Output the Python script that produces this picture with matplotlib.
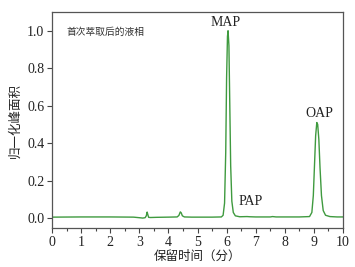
import matplotlib
matplotlib.use("Agg")
import matplotlib.pyplot as plt

# 色谱曲线（读图估计的点）
time_min = [0.0, 1.0, 2.0, 2.8, 3.0, 3.12, 3.2, 3.24, 3.27, 3.29, 3.32, 3.38, 3.6,
            4.0, 4.3, 4.36, 4.41, 4.44, 4.48, 4.55, 4.8, 5.0, 5.5, 5.82, 5.88,
            5.93, 5.97, 6.0, 6.03, 6.05, 6.08, 6.11, 6.14, 6.18, 6.23, 6.3, 6.45,
            6.7, 6.8, 7.0, 7.5, 7.58, 7.7, 8.0, 8.5, 8.85, 8.93, 8.98, 9.02,
            9.06, 9.1, 9.13, 9.17, 9.21, 9.26, 9.32, 9.4, 9.55, 9.8, 10.0]
signal = [0.005, 0.006, 0.006, 0.005, 0.002, 0.0, 0.002, 0.012, 0.032, 0.02, 0.004,
          0.003, 0.004, 0.005, 0.006, 0.014, 0.033, 0.028, 0.012, 0.006, 0.005,
          0.005, 0.005, 0.006, 0.015, 0.08, 0.35, 0.75, 0.97, 1.0, 0.92, 0.6,
          0.28, 0.09, 0.03, 0.012, 0.007, 0.008, 0.007, 0.006, 0.006, 0.008,
          0.006, 0.006, 0.006, 0.008, 0.03, 0.12, 0.28, 0.44, 0.51, 0.5, 0.42,
          0.27, 0.12, 0.04, 0.015, 0.008, 0.006, 0.006]

peak_names = ["MAP", "PAP", "OAP"]
peak_x = [5.97, 6.84, 9.19]
peak_y = [1.01, 0.055, 0.525]

x_ticks = list(range(0, 11))
y_ticks = [0.0, 0.2, 0.4, 0.6, 0.8, 1.0]

serif = "Liberation Serif"
cjk = ["Noto Sans CJK SC", "DejaVu Sans"]

fig = plt.figure(figsize=(3.55, 2.67), dpi=100)
ax = fig.add_axes([52 / 355, 1 - 228 / 267, 291 / 355, 216 / 267])

ax.plot(time_min, signal, color="#3f9a3f", linewidth=1.0)

for name, px, py in zip(peak_names, peak_x, peak_y):
    ax.text(px, py, name, ha="center", va="bottom", fontsize=10,
            family=serif, color="#222222")

ax.text(0.5, 0.995, "首次萃取后的液相", ha="left", va="center", fontsize=7,
        family=cjk, color="#333333")

ax.set_xlim(0, 10)
ax.set_ylim(-0.053, 1.1)
ax.set_xticks(x_ticks)
ax.set_xticks([i + 0.5 for i in range(10)], minor=True)
ax.set_yticks(y_ticks)
ax.set_yticklabels([f"{v:.1f}" for v in y_ticks])

for lab in ax.get_xticklabels() + ax.get_yticklabels():
    lab.set_family(serif)
    lab.set_fontsize(10)
    lab.set_color("#222222")

ax.tick_params(direction="out", length=3.5, width=0.8, colors="#444444",
               labelcolor="#222222", pad=2)
ax.tick_params(which="minor", direction="out", length=2, width=0.8, colors="#444444")
for s in ax.spines.values():
    s.set_color("#555555")
    s.set_linewidth(0.9)

ax.set_xlabel("保留时间（分）", family=cjk, fontsize=9, labelpad=1, color="#222222")
ax.set_ylabel("归一化峰面积", family=cjk, fontsize=9, labelpad=4, color="#222222")

fig.savefig("out.png", dpi=100)
